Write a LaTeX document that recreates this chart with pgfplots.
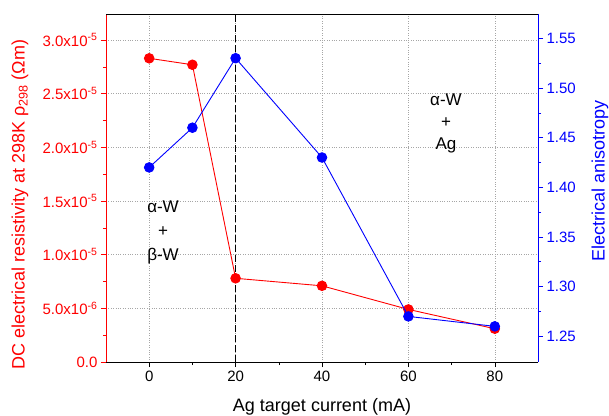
\documentclass[border=0pt]{standalone}
\usepackage{pgfplots}
\pgfplotsset{compat=1.18}
\usepackage{fontspec}
\setmainfont{Liberation Sans}
\begin{document}
\begin{tikzpicture}
\path[use as bounding box] (-106pt,-53pt) rectangle (503pt,362pt);
\begin{axis}[
  at={(0,0)}, anchor=south west,
  scale only axis, width=432pt, height=348pt,
  xmin=-10, xmax=90, ymin=0, ymax=3.243e-5,
  axis x line*=bottom, axis y line*=left,
  tick align=outside,
  major tick length=5pt, minor tick length=3pt,
  xtick={0,20,40,60,80}, minor x tick num=1,
  ytick={0,0.5e-5,1e-5,1.5e-5,2e-5,2.5e-5,3e-5}, minor y tick num=1,
  scaled y ticks=false,
  yticklabels={0.0, 5.0x10\textsuperscript{-6}, 1.0x10\textsuperscript{-5}, 1.5x10\textsuperscript{-5}, 2.0x10\textsuperscript{-5}, 2.5x10\textsuperscript{-5}, 3.0x10\textsuperscript{-5}},
  /pgf/number format/assume math mode=true,
  ticklabel style={font=\fontsize{15}{18}\selectfont},
  yticklabel style={red},
  ytick style={red, line width=0.6pt},
  xtick style={black, line width=0.6pt},
  y axis line style={red, line width=0.9pt},
  x axis line style={black, line width=0.9pt},
  grid=major,
  major grid style={dotted, gray!70, line width=0.6pt},
  xlabel={Ag target current (mA)},
  xlabel style={at={(axis description cs:0.5,-0.13)}, anchor=center, font=\fontsize{18}{21}\selectfont},
  ylabel={DC electrical resistivity at 298K ρ\textsubscript{298} (Ωm)},
  ylabel style={at={(axis description cs:-0.199,0.452)}, anchor=center, rotate=0, red, font=\fontsize{18}{21}\selectfont},
]
\addplot[black, dash pattern=on 7pt off 3pt, line width=0.8pt] coordinates {(20,0) (20,3.243e-5)};
\addplot[red, line width=0.9pt, mark=*, mark size=4.8pt, mark options={fill=red, draw=red}]
  coordinates {(0,2.83e-5) (10,2.77e-5) (20,7.8e-6) (40,7.1e-6) (60,4.9e-6) (80,3.1e-6)};
\node[align=center, font=\fontsize{17}{24}\selectfont] at (axis cs:3.2,1.21e-5) {α-W\\+\\β-W};
\node[align=center, font=\fontsize{17}{22}\selectfont] at (axis cs:68.7,2.227e-5) {α-W\\+\\Ag};
\end{axis}
\begin{axis}[
  at={(0,0)}, anchor=south west,
  scale only axis, width=432pt, height=348pt,
  xmin=-10, xmax=90, ymin=1.2241, ymax=1.5745,
  axis y line*=right, axis x line*=top,
  tick align=outside,
  major tick length=5pt, minor tick length=3pt,
  xtick=\empty,
  ytick={1.25,1.30,1.35,1.40,1.45,1.50,1.55}, minor y tick num=1,
  /pgf/number format/assume math mode=true,
  yticklabel style={blue, font=\fontsize{15}{18}\selectfont, /pgf/number format/fixed, /pgf/number format/fixed zerofill, /pgf/number format/precision=2},
  ytick style={blue, line width=0.6pt},
  y axis line style={blue, line width=0.9pt},
  x axis line style={black, line width=0.9pt},
  ylabel={Electrical anisotropy},
  ylabel style={at={(axis description cs:1.1435,0.52)}, anchor=center, rotate=0, blue, font=\fontsize{18}{21}\selectfont},
]
\addplot[blue, line width=0.9pt, mark=*, mark size=4.8pt, mark options={fill=blue, draw=blue}]
  coordinates {(0,1.42) (10,1.46) (20,1.53) (40,1.43) (60,1.27) (80,1.26)};
\end{axis}
\end{tikzpicture}
\end{document}
